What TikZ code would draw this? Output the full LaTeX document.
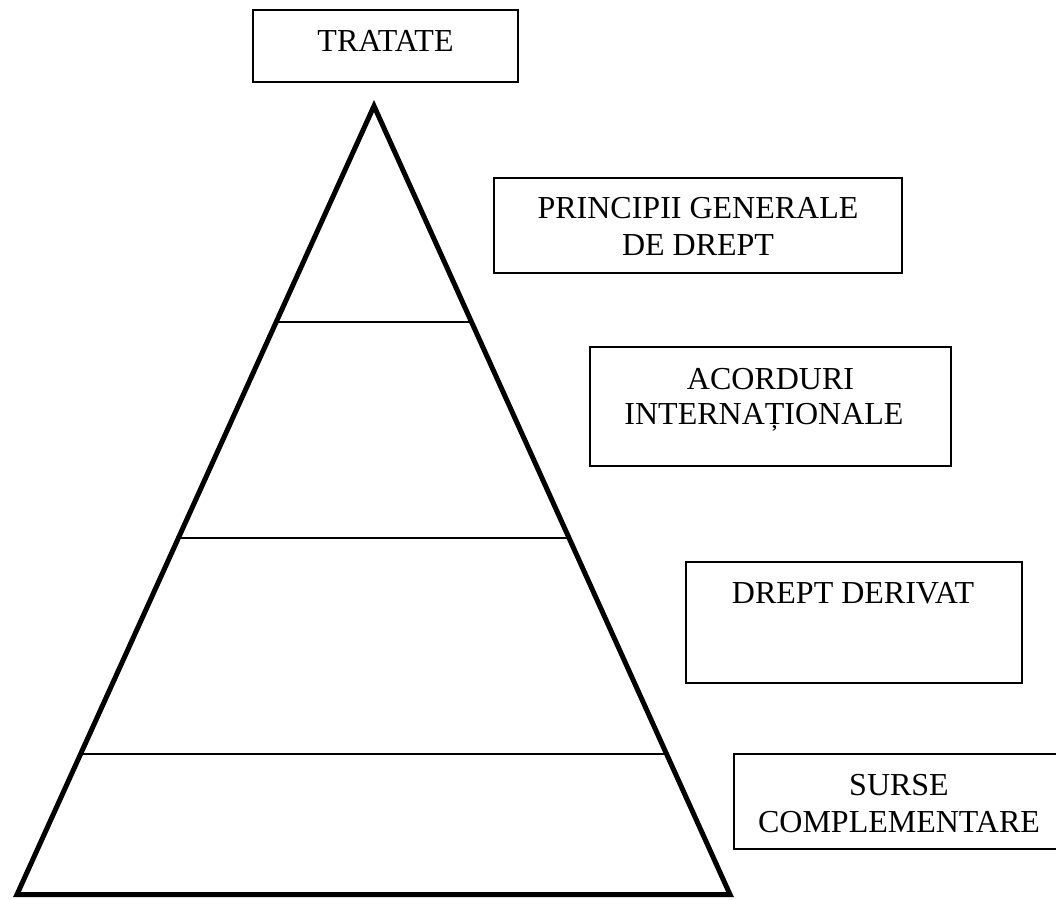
\documentclass[tikz,border=0pt]{standalone}
\usepackage{fontspec}
\setmainfont{Liberation Serif}
\usetikzlibrary{calc}
\tikzset{
  box/.style={draw=black, line width=1.6pt, inner sep=0pt, outer sep=0pt, fill=none},
  txt/.style={font=\fontsize{32}{37}\selectfont, inner sep=0pt, anchor=base, text=black},
  tier/.style={draw=black, line width=2pt},
  pyr/.style={draw=black, line width=5pt, line join=miter}
}
\begin{document}
\begin{tikzpicture}[x=1pt,y=-1pt]
\clip (0,0) rectangle (1056,899);
\fill[white] (0,0) rectangle (1056,899);

% pyramid corners
\coordinate (apex) at (374,106);
\coordinate (bl) at (17,894.5);
\coordinate (br) at (730,894.5);

% tier lines
\draw[tier] ($(apex)!0.2739!(bl)$) -- ($(apex)!0.2739!(br)$);
\draw[tier] ($(apex)!0.5479!(bl)$) -- ($(apex)!0.5479!(br)$);
\draw[tier] ($(apex)!0.8218!(bl)$) -- ($(apex)!0.8218!(br)$);

% pyramid outline
\draw[pyr] (apex) -- (br) -- (bl) -- cycle;

% boxes
\node[box, minimum width=265pt, minimum height=72pt] (trat) at (385.5,46) {};
\node[txt] (trat-1) at (385.5,52) {TRATATE};

\node[box, minimum width=408pt, minimum height=95pt] (princ) at (698,225.5) {};
\node[txt] (princ-1) at (698,218) {PRINCIPII GENERALE};
\node[txt] (princ-2) at (698,255) {DE DREPT};

\node[box, minimum width=361pt, minimum height=119pt] (acord) at (770.5,406.5) {};
\node[txt] (acord-1) at (770.5,389) {ACORDURI};
\node[txt] (acord-2) at (764,424) {INTERNAȚIONALE};

\node[box, minimum width=336pt, minimum height=121pt] (deriv) at (854,622.5) {};
\node[txt] (deriv-1) at (853,603) {DREPT DERIVAT};

\node[box, minimum width=330pt, minimum height=95pt] (surse) at (899,801.5) {};
\node[txt] (surse-1) at (899,795) {SURSE};
\node[txt] (surse-2) at (899,832) {COMPLEMENTARE};
\end{tikzpicture}
\end{document}
